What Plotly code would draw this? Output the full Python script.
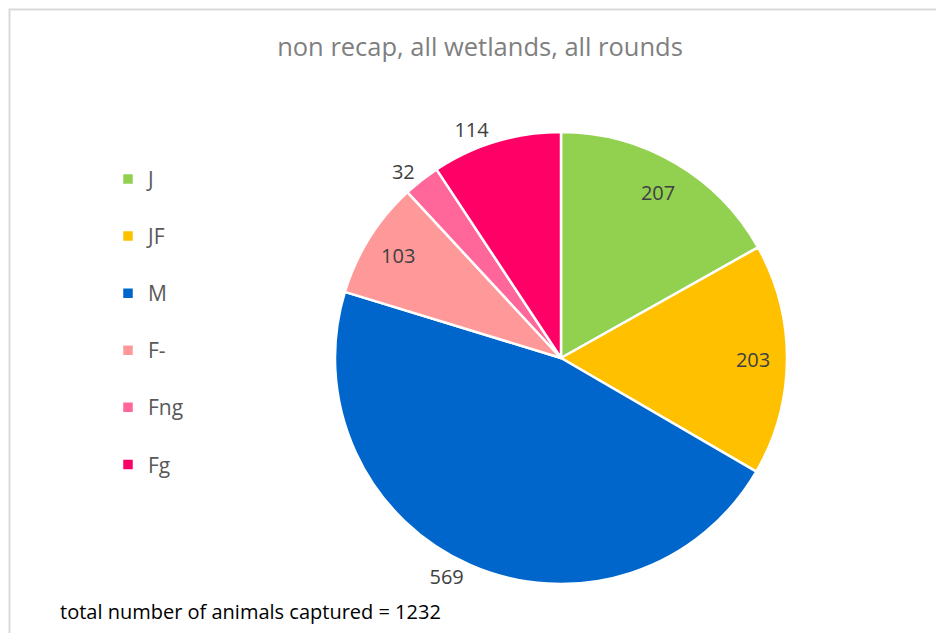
import plotly.graph_objects as go

categories = ["J", "JF", "M", "F-", "Fng", "Fg"]
counts = [207, 203, 569, 103, 32, 114]
slice_colors = ["#92D050", "#FFC000", "#0066CC", "#FF9999", "#FF6699", "#FF0066"]
label_positions = ["inside", "inside", "outside", "inside", "outside", "outside"]
title_text = "non recap, all wetlands, all rounds"
footer_text = "total number of animals captured = 1232"

# page body has an 8px margin; figure sized so the page fits the 944x641 window
W, H = 928, 625
OFF = 8
legend_labels = [f"<span style='font-size:21px'>{c}</span><br>\u00a0" for c in categories]
pie_domain = dict(x=[(335 - OFF) / W, (787 - OFF) / W],
                  y=[(H - (584 - OFF)) / H, (H - (132 - OFF)) / H])

fig = go.Figure()
fig.add_trace(go.Pie(
    labels=legend_labels,
    values=counts,
    sort=False,
    direction="clockwise",
    rotation=0,
    marker=dict(colors=slice_colors, line=dict(color="white", width=2.5)),
    textinfo="none",
    domain=pie_domain,
    hoverinfo="label+value",
))
# transparent ring used only to place the value labels near the rim
fig.add_trace(go.Pie(
    labels=legend_labels,
    values=counts,
    sort=False,
    direction="clockwise",
    rotation=0,
    hole=0.7,
    marker=dict(colors=["rgba(0,0,0,0)"] * len(counts), line=dict(width=0)),
    texttemplate="%{value}",
    textposition=label_positions,
    insidetextorientation="horizontal",
    textfont=dict(family="Open Sans, Noto Sans, sans-serif", size=20, color="#404040"),
    domain=pie_domain,
    showlegend=False,
    hoverinfo="skip",
))

fig.update_layout(
    width=W, height=H,
    margin=dict(l=0, r=0, t=0, b=0),
    paper_bgcolor="white",
    plot_bgcolor="white",
    title=dict(text=title_text, x=(480 - OFF) / W, xanchor="center", y=1 - (47 - OFF) / H, yanchor="middle",
               font=dict(family="Open Sans, Noto Sans, sans-serif", size=25.5, color="#7F7F7F")),
    legend=dict(x=100 / W, xanchor="left", y=1 - 151 / H, yanchor="top",
                valign="top", traceorder="normal",
                font=dict(family="Open Sans, Noto Sans, sans-serif", size=20.8, color="#595959")),
    shapes=[dict(type="rect", xref="paper", yref="paper",
                 x0=1.5 / W, x1=1.05, y0=-0.05, y1=1 - 1.5 / H,
                 line=dict(color="#D9D9D9", width=2), layer="below")],
    annotations=[dict(text=footer_text, xref="paper", yref="paper",
                      x=(58 - OFF) / W, xanchor="left", y=1 - (611 - OFF) / H, yanchor="middle",
                      showarrow=False,
                      font=dict(family="Open Sans, Noto Sans, sans-serif", size=20, color="#000000"))],
)

fig.write_html("out.html")
